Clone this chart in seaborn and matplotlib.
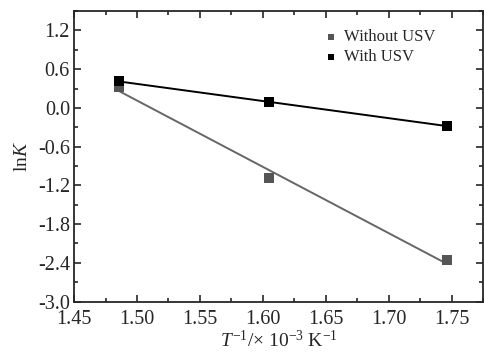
import numpy as np
import pandas as pd
import matplotlib
matplotlib.use("Agg")
import matplotlib.pyplot as plt
import seaborn as sns
from matplotlib.ticker import MultipleLocator, AutoMinorLocator

# data
inv_temp = [1.486, 1.605, 1.746]
lnk_without = [0.32, -1.08, -2.36]
lnk_with = [0.41, 0.09, -0.28]
series_names = ["Without USV", "With USV"]
series_colors = ["#555555", "#000000"]
line_colors = ["#666666", "#000000"]

sns.set_style("ticks")
plt.rcParams["font.family"] = ["Liberation Serif", "DejaVu Serif"]
plt.rcParams["mathtext.fontset"] = "custom"
plt.rcParams["mathtext.rm"] = "Liberation Serif"
plt.rcParams["mathtext.it"] = "Liberation Serif:italic"

fig, ax = plt.subplots(figsize=(4.84, 3.56), dpi=100)
fig.subplots_adjust(left=0.153, right=0.998, top=0.969, bottom=0.153)

for name, ys, mc, lc in zip(series_names, [lnk_without, lnk_with], series_colors, line_colors):
    df = pd.DataFrame({"x": inv_temp, "y": ys})
    sns.regplot(data=df, x="x", y="y", ax=ax, ci=None, marker="s", label=name,
                scatter_kws={"s": 50, "color": mc, "alpha": 1, "linewidths": 0, "zorder": 3},
                line_kws={"color": lc, "lw": 1.4, "alpha": 1, "zorder": 2})

ax.set_xlim(1.45, 1.775)
ax.set_ylim(-3.0, 1.5)
ax.xaxis.set_major_locator(MultipleLocator(0.05))
ax.yaxis.set_major_locator(MultipleLocator(0.6))
ax.xaxis.set_minor_locator(AutoMinorLocator(2))
ax.yaxis.set_minor_locator(AutoMinorLocator(2))
ax.set_xticks(ax.get_xticks())
ax.set_xticklabels([f"{v:.2f}" for v in ax.get_xticks()])
ax.set_yticks(ax.get_yticks())
ax.set_yticklabels([f"{v + 0.0:.1f}".replace("-0.0", "0.0") for v in ax.get_yticks()])
ax.set_xlim(1.45, 1.775)
ax.set_ylim(-3.0, 1.5)
ax.tick_params(which="both", direction="in", top=True, right=True, labelsize=14.5, width=1.2)
ax.tick_params(which="major", length=5)
ax.tick_params(which="minor", length=3)
ax.tick_params(axis="x", pad=6)
ax.tick_params(axis="y", pad=3)
for sp in ax.spines.values():
    sp.set_linewidth(1.3)

ax.set_xlabel(r"$T^{-1}$/$\times$ 10$^{-3}$ K$^{-1}$", fontsize=14, labelpad=1)
ax.set_ylabel(r"ln$K$", fontsize=14, labelpad=5)

ax.legend(loc="upper right", bbox_to_anchor=(0.92, 0.99), frameon=False, fontsize=12,
          handletextpad=0.3, markerscale=0.6, labelspacing=0.25, handlelength=1.0)

fig.savefig("out.png", dpi=100)
